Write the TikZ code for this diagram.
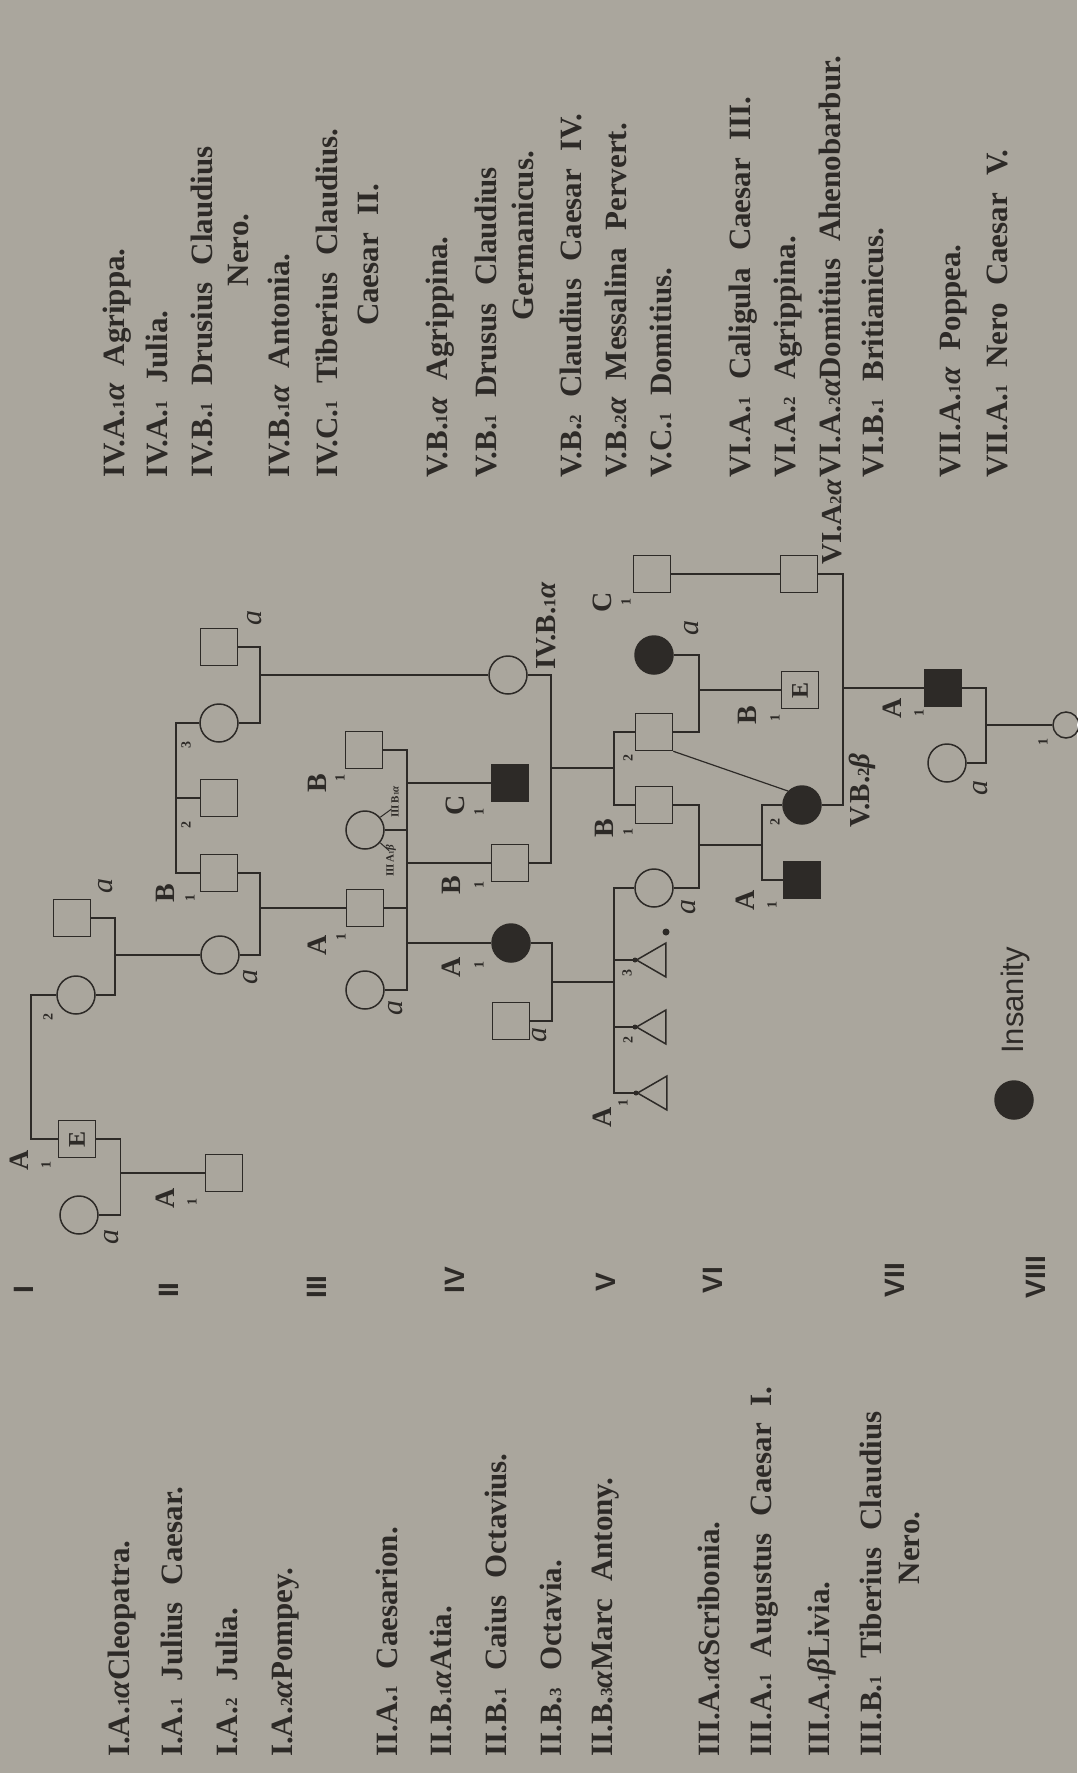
\documentclass[tikz,border=0pt]{standalone}
\usepackage{fontspec}
\setmainfont{Liberation Serif}
\newfontfamily\numfont{Liberation Sans}
\usetikzlibrary{shapes.geometric}
\definecolor{paper}{RGB}{170,166,157}
\definecolor{ink}{RGB}{45,42,39}
\newcommand\lf{\fontsize{31}{31}\selectfont\bfseries\spaceskip=0.55em plus 0.1em\relax}
\newcommand\sd[1]{{\fontsize{17}{17}\selectfont #1}}
\newcommand\efont{\fontsize{24}{24}\selectfont\bfseries}
\tikzset{
  con/.style={draw=ink, line width=1.5pt},
  sq/.style={draw=ink, line width=1.5pt, rectangle, minimum size=37pt, inner sep=0pt},
  fsq/.style={sq, fill=ink},
  ci/.style={draw=ink, line width=1.5pt, circle, minimum size=38pt, inner sep=0pt},
  fci/.style={ci, fill=ink},
  tri/.style={draw=ink, line width=1.5pt, regular polygon, regular polygon sides=3, shape border rotate=90, minimum size=39pt, inner sep=0pt},
  lst/.style={rotate=90, anchor=base west, inner sep=0pt, text=ink, font=\lf},
  lstc/.style={rotate=90, anchor=base, inner sep=0pt, text=ink, font=\lf},
  lab/.style={rotate=90, inner sep=0pt, text=ink, font=\fontsize{28}{28}\selectfont\bfseries},
  sub/.style={rotate=90, inner sep=0pt, text=ink, font=\fontsize{14}{14}\selectfont\bfseries},
  alab/.style={rotate=90, inner sep=0pt, text=ink, font=\fontsize{30}{30}\selectfont\itshape},
  tagl/.style={rotate=90, anchor=west, inner sep=0pt, text=ink, font=\fontsize{29}{29}\selectfont\bfseries},
  tiny/.style={rotate=90, inner sep=0pt, text=ink, font=\fontsize{11}{11}\selectfont\bfseries},
  gen/.style={rotate=90, inner sep=0pt, text=ink, font=\numfont\fontsize{28}{28}\selectfont\bfseries},
}
\begin{document}
\begin{tikzpicture}[x=1pt,y=-1pt]
\useasboundingbox (0,0) rectangle (1077,1773);
\fill[paper] (0,0) rectangle (1077,1773);

% ---------- symbols ----------
% Gen I
\node[ci] (cleo) at (79,1215) {};
\node[sq, font=\efont, text=ink] (jc) at (77,1139) {\rotatebox{90}{E}};
\node[ci] (juliaA) at (76,995) {};
\node[sq] (pomp) at (72,918) {};
% Gen II
\node[ci] (atia) at (220,955) {};
\node[sq] (caes) at (224,1173) {};
\node[sq] (octv) at (219,873) {};
\node[sq] (btwo) at (219,798) {};
\node[ci] (octa) at (219,723) {};
\node[sq] (anto) at (219,647) {};
% Gen III
\node[sq] (tcn) at (364,750) {};
\node[ci] (livia) at (365,830) {};
\node[sq] (augu) at (365,908) {};
\node[ci] (scri) at (365,990) {};
% Gen IV
\node[ci] (antn) at (508,675) {};
\node[fsq] (tibe) at (510,783) {};
\node[sq] (drus) at (510,863) {};
\node[fci] (juliaB) at (511,943) {};
\node[sq] (agri) at (511,1021) {};
% Gen V
\node[sq] (domV) at (652,574) {};
\node[fci] (mess) at (654,655) {};
\node[sq] (clau) at (654,732) {};
\node[sq] (germ) at (654,805) {};
\node[ci] (agrA) at (654,888) {};
\node[tri] (triC) at (656,960) {};
\node[tri] (triB) at (656,1027) {};
\node[tri] (triA) at (657,1093) {};
% Gen VI
\node[sq] (domVI) at (799,574) {};
\node[sq, font=\efont, text=ink] (brit) at (800,690) {\rotatebox{90}{E}};
\node[fci] (agrB) at (802,805) {};
\node[fsq] (cali) at (802,880) {};
% Gen VII
\node[fsq] (nero) at (943,688) {};
\node[ci] (popp) at (947,763) {};
% Gen VIII
\node[ci, minimum size=26pt] (kid) at (1066,725) {};

% ---------- junction coordinates ----------
\coordinate (sbI) at (31,1067);
\coordinate (mIa) at (120.5,1173);
\coordinate (mIb) at (115,955);
\coordinate (sbII) at (176,798);
\coordinate (mIIa) at (260,675);
\coordinate (mIIb) at (260,908);
\coordinate (mIII) at (407,830);
\coordinate (mIVa) at (551,768);
\coordinate (mIVb) at (552,982);
\coordinate (sbVa) at (614,768);
\coordinate (sbVb) at (614,982);
\coordinate (mVa) at (699,690);
\coordinate (mVb) at (699,845);
\coordinate (sbVI) at (762,845);
\coordinate (mVI) at (843,688);
\coordinate (mVII) at (986,725);

% ---------- connectors ----------
\draw[con] (juliaA.west) -| (sbI) |- (jc.west);
\draw[con] (jc.east) -| (mIa) |- (cleo.east);
\draw[con] (mIa) -- (caes.west);
\draw[con] (pomp.east) -| (mIb) |- (juliaA.east);
\draw[con] (mIb) -- (atia.west);
\draw[con] (octa.west) -| (sbII) |- (octv.west);
\draw[con] (sbII) -- (btwo.west);
\draw[con] (anto.east) -| (mIIa) |- (octa.east);
\draw[con] (mIIa) -- (antn.west);
\draw[con] (octv.east) -| (mIIb) |- (atia.east);
\draw[con] (mIIb) -- (augu.west);
\draw[con] (tcn.east) -| (mIII) |- (scri.east);
\draw[con] (augu.east) -- (augu.east -| mIII);
\draw[con] (livia.east) -- (mIII);
\draw[con, line width=1pt] (livia.40) -- ++(11,-8);
\draw[con, line width=1pt] (livia.-40) -- ++(9,8);
\draw[con] (tibe.west -| mIII) -- (tibe.west);
\draw[con] (drus.west -| mIII) -- (drus.west);
\draw[con] (juliaB.west -| mIII) -- (juliaB.west);
\draw[con] (antn.east) -| (mIVa) |- (drus.east);
\draw[con] (mIVa) -- (sbVa);
\draw[con] (clau.west) -| (sbVa) |- (germ.west);
\draw[con] (juliaB.east) -| (mIVb) |- (agri.east);
\draw[con] (mIVb) -- (sbVb);
\draw[con] (agrA.west) -| (sbVb) |- (triA.corner 1);
\draw[con] (triC.corner 1 -| sbVb) -- (triC.corner 1);
\draw[con] (triB.corner 1 -| sbVb) -- (triB.corner 1);
\fill[ink] (triA.corner 1) circle (2.5);
\fill[ink] (triB.corner 1) circle (2.5);
\fill[ink] (triC.corner 1) circle (2.5);
\fill[ink] (666,932) circle (3.5);
\draw[con] (clau.east) -| (mVa) |- (mess.east);
\draw[con] (mVa) -- (brit.west);
\draw[con, line width=1.2pt] (clau.south east) -- (agrB.north west);
\draw[con] (germ.east) -| (mVb) |- (agrA.east);
\draw[con] (mVb) -- (sbVI);
\draw[con] (agrB.west) -| (sbVI) |- (cali.west);
\draw[con] (domV.east) -- (domVI.west);
\draw[con] (domVI.east) -| (mVI) |- (agrB.east);
\draw[con] (mVI) -- (nero.west);
\draw[con] (nero.east) -| (mVII) |- (popp.east);
\draw[con] (mVII) -- (kid.west);

% ---------- symbol labels ----------
\node[lab] (l1) at (19,1160) {A};  \node[sub] (l2) at (46,1165) {1};
\node[sub] (l3) at (48,1017) {2};
\node[alab] (l4) at (112,1237) {a};
\node[alab] (l5) at (106,886) {a};
\node[lab] (l6) at (165,1198) {A}; \node[sub] (l7) at (192,1202) {1};
\node[alab] (l8) at (251,977) {a};
\node[lab] (l9) at (165,893) {B};  \node[sub] (l10) at (190,898) {1};
\node[sub] (l11) at (186,825) {2};
\node[sub] (l12) at (186,745) {3};
\node[alab] (l13) at (255,618) {a};
\node[lab] (l14) at (317,783) {B}; \node[sub] (l15) at (340,778) {1};
\node[lab] (l16) at (317,945) {A}; \node[sub] (l17) at (341,937) {1};
\node[alab] (l18) at (396,1008) {a};
\node[tiny] (l19) at (395,802) {III\,B{\fontsize{7}{7}\selectfont 1}\textit{α}};
\node[tiny] (l20) at (391,861) {III\,A{\fontsize{7}{7}\selectfont 1}\textit{β}};
\node[lab] (l21) at (455,805) {C}; \node[sub] (l22) at (479,812) {1};
\node[lab] (l23) at (451,885) {B}; \node[sub] (l24) at (479,885) {1};
\node[lab] (l25) at (451,967) {A}; \node[sub] (l26) at (479,965) {1};
\node[alab] (l27) at (540,1035) {a};
\node[tagl] (l28) at (546,670) {IV.B.\sd{1}\textit{α}};
\node[lab] (l29) at (602,602) {C}; \node[sub] (l30) at (626,602) {1};
\node[alab] (l31) at (692,628) {a};
\node[sub] (l32) at (628,758) {2};
\node[lab] (l33) at (604,828) {B}; \node[sub] (l34) at (628,832) {1};
\node[alab] (l35) at (689,907) {a};
\node[sub] (l36) at (627,973) {3};
\node[sub] (l37) at (628,1040) {2};
\node[lab] (l38) at (602,1117) {A}; \node[sub] (l39) at (623,1103) {1};
\node[tagl] (l40) at (832,565) {VI.A\sd{2}\textit{α}};
\node[lab] (l41) at (747,715) {B}; \node[sub] (l42) at (775,718) {1};
\node[sub] (l43) at (775,822) {2};
\node[tagl] (l44) at (862,828) {V.B.\sd{2}\textit{β}};
\node[lab] (l45) at (745,900) {A}; \node[sub] (l46) at (772,905) {1};
\node[lab] (l47) at (892,708) {A}; \node[sub] (l48) at (919,713) {1};
\node[alab] (l49) at (981,788) {a};
\node[sub] (l50) at (1043,742) {1};

% ---------- generation numerals ----------
\node[gen] (g1) at (24,1290) {I};
\node[gen] (g2) at (169,1290) {II};
\node[gen] (g3) at (317,1287) {III};
\node[gen] (g4) at (455,1280) {IV};
\node[gen] (g5) at (606,1282) {V};
\node[gen] (g6) at (713,1280) {VI};
\node[gen] (g7) at (895,1280) {VII};
\node[gen] (g8) at (1036,1277) {VIII};

% ---------- legend ----------
\node[fci] (legdot) at (1014,1100) {};
\node[rotate=90, anchor=base west, inner sep=0pt, text=ink, font=\numfont\fontsize{31}{31}\selectfont] (legtxt) at (1023,1054) {Insanity};

% ---------- lower name list ----------
\node[lst] (n1) at (129,1757) {I.A.\sd{1}\textit{α}Cleopatra.};
\node[lst] (n2) at (182,1757) {I.A.\sd{1} Julius Caesar.};
\node[lst] (n3) at (237,1757) {I.A.\sd{2} Julia.};
\node[lst] (n4) at (292,1757) {I.A.\sd{2}\textit{α}Pompey.};
\node[lst] (n5) at (397,1757) {II.A.\sd{1} Caesarion.};
\node[lst] (n6) at (451,1757) {II.B.\sd{1}\textit{α}Atia.};
\node[lst] (n7) at (506,1757) {II.B.\sd{1} Caius Octavius.};
\node[lst] (n8) at (561,1757) {II.B.\sd{3} Octavia.};
\node[lst] (n9) at (612,1757) {II.B.\sd{3}\textit{α}Marc Antony.};
\node[lst] (n10) at (719,1757) {III.A.\sd{1}\textit{α}Scribonia.};
\node[lst] (n11) at (771,1757) {III.A.\sd{1} Augustus Caesar I.};
\node[lst] (n12) at (829,1757) {III.A.\sd{1}\textit{β}Livia.};
\node[lst] (n13) at (881,1757) {III.B.\sd{1} Tiberius Claudius};
\node[lstc] (n14) at (919,1548) {Nero.};

% ---------- upper name list ----------
\node[lst] (m1) at (124,478) {IV.A.\sd{1}\textit{α} Agrippa.};
\node[lst] (m2) at (167,478) {IV.A.\sd{1} Julia.};
\node[lst] (m3) at (212,478) {IV.B.\sd{1} Drusius Claudius};
\node[lstc] (m4) at (248,250) {Nero.};
\node[lst] (m5) at (289,478) {IV.B.\sd{1}\textit{α} Antonia.};
\node[lst] (m6) at (337,478) {IV.C.\sd{1} Tiberius Claudius.};
\node[lstc] (m7) at (378,255) {Caesar II.};
\node[lst] (m8) at (447,478) {V.B.\sd{1}\textit{α} Agrippina.};
\node[lst] (m9) at (496,478) {V.B.\sd{1} Drusus Claudius};
\node[lstc] (m10) at (533,236) {Germanicus.};
\node[lst] (m11) at (581,478) {V.B.\sd{2} Claudius Caesar IV.};
\node[lst] (m12) at (626,478) {V.B.\sd{2}\textit{α} Messalina Pervert.};
\node[lst] (m13) at (671,478) {V.C.\sd{1} Domitius.};
\node[lst] (m14) at (750,478) {VI.A.\sd{1} Caligula Caesar III.};
\node[lst] (m15) at (795,478) {VI.A.\sd{2} Agrippina.};
\node[lst] (m16) at (840,478) {VI.A.\sd{2}\textit{α}Domitius Ahenobarbur.};
\node[lst] (m17) at (883,478) {VI.B.\sd{1} Britianicus.};
\node[lst] (m18) at (960,478) {VII.A.\sd{1}\textit{α} Poppea.};
\node[lst] (m19) at (1007,478) {VII.A.\sd{1} Nero Caesar V.};
\end{tikzpicture}
\end{document}
